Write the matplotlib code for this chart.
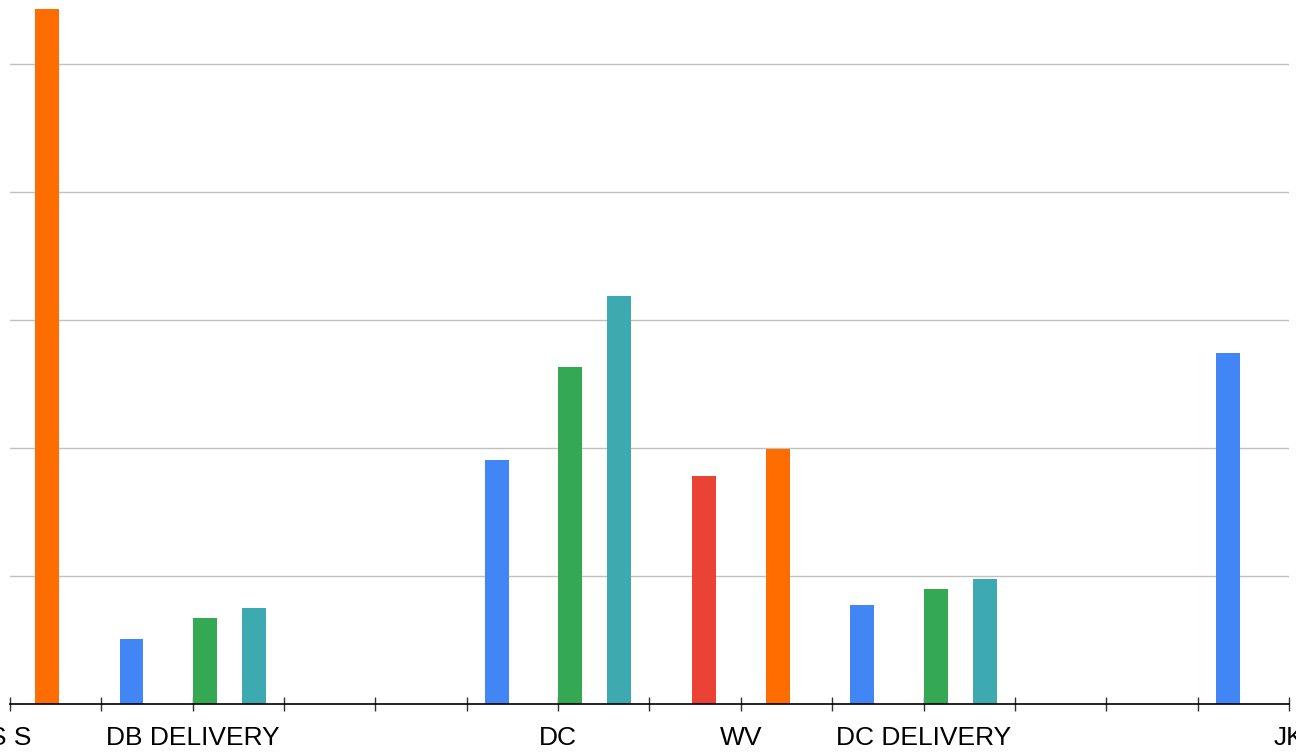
import numpy as np
import matplotlib.pyplot as plt

categories = ["S S", "DB DELIVERY", "", "DC", "WV", "DC DELIVERY", "", "JK"]
series_names = ["Blue", "Red", "Yellow", "Green", "Orange", "Teal"]
colors = ["#4285F4", "#EA4335", "#FBBC04", "#34A853", "#FF6D01", "#3DA9B1"]

blue = [0, 5.1, 0, 19.1, 0, 7.7, 0, 27.4]
red = [0, 0, 0, 0, 17.8, 0, 0, 0]
yellow = [0, 0, 0, 0, 0, 0, 0, 0]
green = [0, 6.7, 0, 26.3, 0, 9.0, 0, 0]
orange = [54.3, 0, 0, 0, 19.9, 0, 0, 0]
teal = [0, 7.5, 0, 31.9, 0, 9.8, 0, 0]
values = [blue, red, yellow, green, orange, teal]

plt.rcParams['font.family'] = ['Liberation Sans', 'DejaVu Sans']

fig = plt.figure(figsize=(12.96, 7.55), dpi=100)
ax = fig.add_axes([10 / 1296, 51 / 755, 1279 / 1296, 704 / 755])

x = np.arange(len(categories))
slot = 0.134
width = 0.131
for i, (vals, c) in enumerate(zip(values, colors)):
    ax.bar(x + (i - 2.5) * slot, vals, width=width, color=c, zorder=3,
           label=series_names[i])

ax.set_xlim(0, len(categories) - 1)
ax.set_ylim(0, 55)
ax.set_yticks([10, 20, 30, 40, 50])
ax.yaxis.grid(True, color="#c0c0c0", linewidth=1)
ax.tick_params(axis='y', length=0, labelleft=False)

ax.set_xticks(x)
ax.set_xticklabels(categories, fontsize=19)
ax.set_xticks(x[:-1] + 0.5, minor=True)
ax.tick_params(axis='x', which='both', direction='inout', length=10,
               width=1, color='#333333', pad=11)

for s in ["top", "right", "left"]:
    ax.spines[s].set_visible(False)
ax.spines["bottom"].set_color("black")
ax.spines["bottom"].set_linewidth(1.2)
ax.spines["bottom"].set_zorder(4)

fig.savefig("out.png", dpi=100)
